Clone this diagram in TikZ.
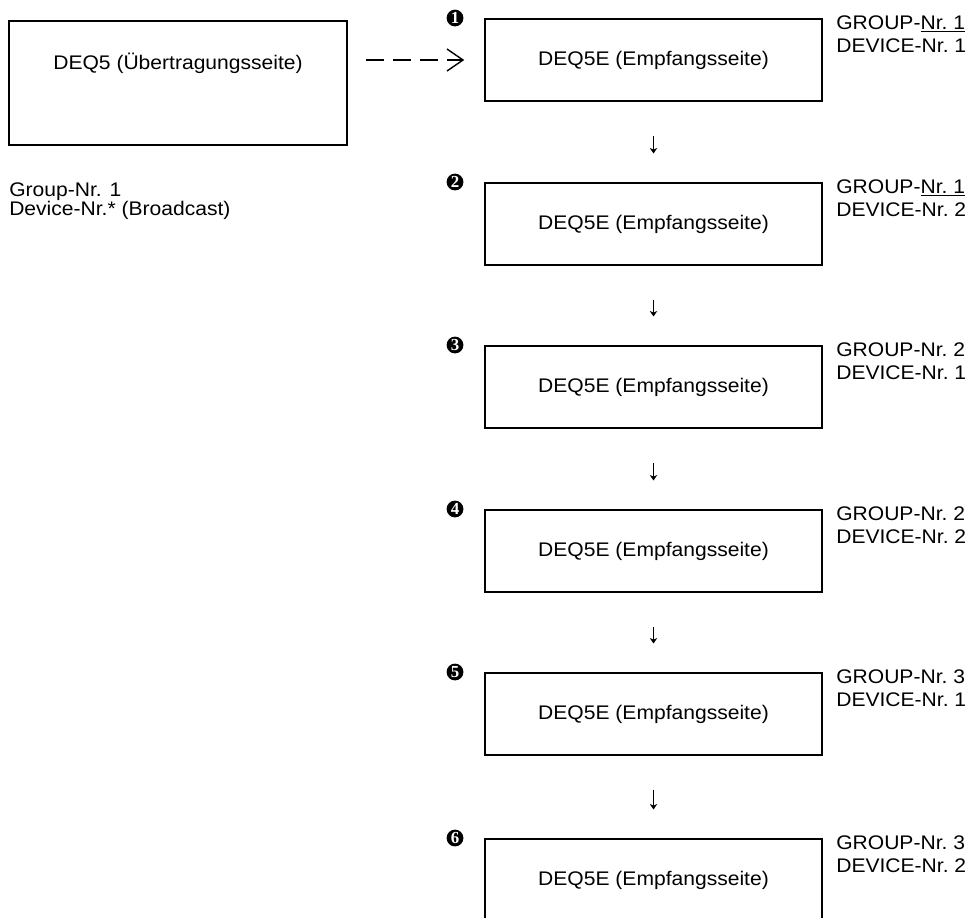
\documentclass[tikz,border=0pt]{standalone}
\usepackage{fontspec}
\setmainfont[FakeStretch=1.07]{Liberation Sans}
\newfontfamily\numfont{Liberation Serif}
\usetikzlibrary{arrows.meta,positioning}
\newcommand{\boxfont}{\fontsize{14pt}{16.4pt}\selectfont}
\newcommand{\srcfont}{\fontsize{14pt}{14pt}\selectfont}
\tikzset{
  txbox/.style={draw, rectangle, minimum width=8.45cm, minimum height=3.1cm, line width=1pt},
  rxbox/.style={draw, rectangle, minimum width=8.425cm, minimum height=2.05cm, align=center, font=\boxfont, line width=1pt},
  num/.style={circle, fill=black, text=white, minimum size=0.42cm, inner sep=0pt, font=\numfont\bfseries\fontsize{12pt}{12pt}\selectfont},
  devlbl/.style={anchor=north west, inner sep=0pt, align=left, font=\boxfont},
  arr/.style={-{Stealth[length=1.4mm, width=1.9mm]}, line width=0.6pt, shorten <=0.85cm, shorten >=0.72cm},
  darr/.style={-{Straight Barb[length=0.4cm, width=0.55cm, line width=1pt]}, line width=1.1pt, dash pattern=on 0.45cm off 0.225cm, shorten <=0.45cm, shorten >=0.5cm},
}

\begin{document}
\begin{tikzpicture}[x=0.025cm, y=-0.025cm]
\useasboundingbox (0,0) rectangle (973,917);
\clip (0,0) rectangle (973,917);

% Sender
\node[txbox] (src) at (178,83) {};
\node[font=\boxfont] (srctext) at (178,63) {DEQ5 (Übertragungsseite)};
\node[devlbl, font=\srcfont] (srcinfo) at (9,182) {Group-Nr. 1\\Device-Nr.* (Broadcast)};

% Receivers
\node[rxbox] (b1) at (653.5,60) {DEQ5E (Empfangsseite)};
\node[rxbox] (b2) at (653.5,224) {DEQ5E (Empfangsseite)};
\node[rxbox] (b3) at (653.5,387) {DEQ5E (Empfangsseite)};
\node[rxbox] (b4) at (653.5,551) {DEQ5E (Empfangsseite)};
\node[rxbox] (b5) at (653.5,714) {DEQ5E (Empfangsseite)};
\node[rxbox] (b6) at (653.5,880) {DEQ5E (Empfangsseite)};

% Order marks
\node[num] (n1) at (455,18) {1};
\node[num] (n2) at (455,182) {2};
\node[num] (n3) at (455,345) {3};
\node[num] (n4) at (455,509) {4};
\node[num] (n5) at (455,672) {5};
\node[num] (n6) at (455,838) {6};

% Addresses
\node[devlbl] (l1) at (836,15) {GROUP-\underline{Nr.~1}\\DEVICE-Nr.~1};
\node[devlbl] (l2) at (836,179) {GROUP-\underline{Nr.~1}\\DEVICE-Nr.~2};
\node[devlbl] (l3) at (836,342) {GROUP-Nr.~2\\DEVICE-Nr.~1};
\node[devlbl] (l4) at (836,506) {GROUP-Nr.~2\\DEVICE-Nr.~2};
\node[devlbl] (l5) at (836,669) {GROUP-Nr.~3\\DEVICE-Nr.~1};
\node[devlbl] (l6) at (836,835) {GROUP-Nr.~3\\DEVICE-Nr.~2};

% Connectors
\draw[darr] (src.east |- b1.west) -- (b1.west);
\draw[arr] (b1) -- (b2);
\draw[arr] (b2) -- (b3);
\draw[arr] (b3) -- (b4);
\draw[arr] (b4) -- (b5);
\draw[arr] (b5) -- (b6);

\end{tikzpicture}
\end{document}
